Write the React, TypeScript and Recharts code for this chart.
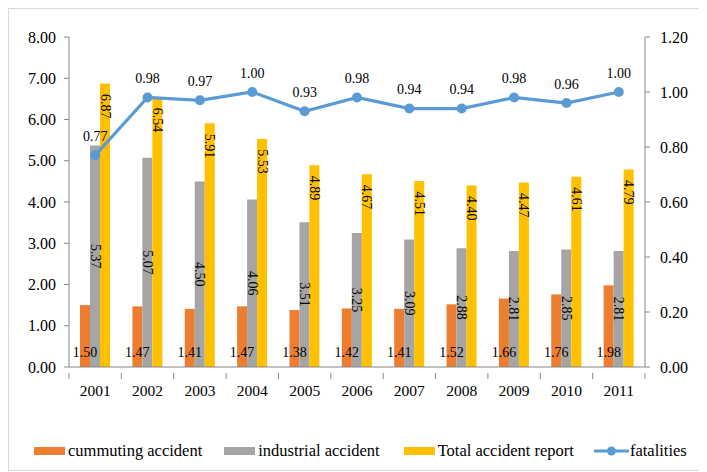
import React from "react";
import {
  ComposedChart,
  Bar,
  Line,
  XAxis,
  YAxis,
  Legend,
  LabelList,
} from "recharts";

// Yearly accident rates (left axis) and fatality rate (right axis)
const years = ["2001", "2002", "2003", "2004", "2005", "2006", "2007", "2008", "2009", "2010", "2011"];
const commuting = [1.5, 1.47, 1.41, 1.47, 1.38, 1.42, 1.41, 1.52, 1.66, 1.76, 1.98];
const industrial = [5.37, 5.07, 4.5, 4.06, 3.51, 3.25, 3.09, 2.88, 2.81, 2.85, 2.81];
const totalReport = [6.87, 6.54, 5.91, 5.53, 4.89, 4.67, 4.51, 4.4, 4.47, 4.61, 4.79];
const fatalities = [0.77, 0.98, 0.97, 1.0, 0.93, 0.98, 0.94, 0.94, 0.98, 0.96, 1.0];

const leftTicks = [0, 1, 2, 3, 4, 5, 6, 7, 8];
const rightTicks = [0, 0.2, 0.4, 0.6, 0.8, 1.0, 1.2];

const data = years.map((year, i) => ({
  year,
  commuting: commuting[i],
  industrial: industrial[i],
  total: totalReport[i],
  fatalities: fatalities[i],
}));

const FONT = "Liberation Serif";
const AXIS = "#868686";
const ORANGE = "#ED7D31";
const GRAY = "#A5A5A5";
const YELLOW = "#FFC000";
const BLUE = "#5B9BD5";

const labelStyle = { fontFamily: FONT, fontSize: 14, fill: "#000" };

const fmt = (v: number) => Number(v).toFixed(2);

// Category ticks: label in the middle, tick marks on the band edges
const YearTick = (props: any) => {
  const { x, y, payload, index, visibleTicksCount } = props;
  const half = payload && payload.offset ? payload.offset : 576 / 11 / 2;
  const axisY = y - 2;
  const isLast = index === (visibleTicksCount ?? years.length) - 1;
  return (
    <g>
      <line x1={x - half} x2={x - half} y1={axisY} y2={axisY + 6} stroke={AXIS} strokeWidth={1} />
      {isLast && (
        <line x1={x + half} x2={x + half} y1={axisY} y2={axisY + 6} stroke={AXIS} strokeWidth={1} />
      )}
      <text x={x} y={axisY + 17} textAnchor="middle" dominantBaseline="central" style={{ ...labelStyle, fontSize: 15.5 }}>
        {payload.value}
      </text>
    </g>
  );
};

// Value ticks for both vertical axes
const ValueTick = (props: any) => {
  const { x, y, payload, textAnchor } = props;
  return (
    <text x={x} y={y} textAnchor={textAnchor} dominantBaseline="central" style={{ ...labelStyle, fontSize: 16 }}>
      {fmt(payload.value)}
    </text>
  );
};

const BaseLabel = (props: any) => {
  const { x, y, width, height, value } = props;
  return (
    <text x={x + width / 2} y={y + height - 14.5} textAnchor="middle" dominantBaseline="central" style={labelStyle}>
      {fmt(value)}
    </text>
  );
};

const CenterRotLabel = (props: any) => {
  const { x, y, width, height, value } = props;
  const cx = x + width / 2;
  const cy = y + height / 2;
  return (
    <text x={cx} y={cy} transform={`rotate(90, ${cx}, ${cy})`} textAnchor="middle" dominantBaseline="central" style={labelStyle}>
      {fmt(value)}
    </text>
  );
};

const TopRotLabel = (props: any) => {
  const { x, y, width, value } = props;
  const cx = x + width / 2;
  const cy = y + 10.5;
  return (
    <text x={cx} y={cy} transform={`rotate(90, ${cx}, ${cy})`} textAnchor="start" dominantBaseline="central" style={labelStyle}>
      {fmt(value)}
    </text>
  );
};

const PointLabel = (props: any) => {
  const { x, y, value } = props;
  return (
    <text x={x} y={y - 19} textAnchor="middle" dominantBaseline="central" style={labelStyle}>
      {fmt(value)}
    </text>
  );
};

const legendItems = [
  { name: "cummuting accident", color: ORANGE, kind: "bar", gap: 22 },
  { name: "industrial accident", color: GRAY, kind: "bar", gap: 24 },
  { name: "Total accident report", color: YELLOW, kind: "bar", gap: 20 },
  { name: "fatalities", color: BLUE, kind: "line", gap: 0 },
];

const ChartLegend = () => (
  <div
    style={{
      display: "flex",
      alignItems: "center",
      height: 24,
      paddingLeft: 15,
      fontFamily: FONT,
      fontSize: 16.5,
      color: "#000",
      whiteSpace: "nowrap",
    }}
  >
    {legendItems.map((it) => (
      <div key={it.name} style={{ display: "flex", alignItems: "center", marginRight: it.gap }}>
        {it.kind === "bar" ? (
          <span style={{ display: "inline-block", width: 31, height: 8, background: it.color, marginRight: 3 }} />
        ) : (
          <svg width={35} height={12} style={{ marginRight: 1 }}>
            <line x1={0} x2={35} y1={6} y2={6} stroke={it.color} strokeWidth={3} />
            <circle cx={17.5} cy={6} r={4.5} fill={it.color} />
          </svg>
        )}
        <span>{it.name}</span>
      </div>
    ))}
  </div>
);

export default function App() {
  return (
    <div style={{ width: 695, height: 461, border: "1px solid #d9d9d9", background: "#fff", fontFamily: FONT }}>
      <ComposedChart
        width={695}
        height={461}
        data={data}
        margin={{ top: 28, right: 9, bottom: 7, left: 10 }}
        barGap={0}
        style={{ fontFamily: FONT }}
      >
        <XAxis
          dataKey="year"
          xAxisId="x"
          height={72}
          axisLine={{ stroke: AXIS }}
          tickLine={false}
          tick={<YearTick />}
          interval={0}
        />
        <YAxis
          yAxisId="left"
          orientation="left"
          width={50}
          domain={[0, 8]}
          ticks={leftTicks}
          axisLine={{ stroke: AXIS }}
          tickLine={{ stroke: AXIS }}
          tickSize={5}
          tickMargin={8}
          tick={<ValueTick />}
          interval={0}
        />
        <YAxis
          yAxisId="right"
          orientation="right"
          width={50}
          domain={[0, 1.2]}
          ticks={rightTicks}
          axisLine={{ stroke: AXIS }}
          tickLine={{ stroke: AXIS }}
          tickSize={5}
          tickMargin={10}
          tick={<ValueTick />}
          interval={0}
        />
        <Legend verticalAlign="bottom" align="left" height={24} content={<ChartLegend />} />
        <Bar xAxisId="x" yAxisId="left" dataKey="commuting" name="cummuting accident" fill={ORANGE} barSize={10} isAnimationActive={false}>
          <LabelList dataKey="commuting" content={<BaseLabel />} />
        </Bar>
        <Bar xAxisId="x" yAxisId="left" dataKey="industrial" name="industrial accident" fill={GRAY} barSize={10} isAnimationActive={false}>
          <LabelList dataKey="industrial" content={<CenterRotLabel />} />
        </Bar>
        <Bar xAxisId="x" yAxisId="left" dataKey="total" name="Total accident report" fill={YELLOW} barSize={10} isAnimationActive={false}>
          <LabelList dataKey="total" content={<TopRotLabel />} />
        </Bar>
        <Line
          xAxisId="x"
          yAxisId="right"
          dataKey="fatalities"
          name="fatalities"
          stroke={BLUE}
          strokeWidth={3.25}
          dot={{ r: 5, fill: BLUE, stroke: BLUE, strokeWidth: 0 }}
          isAnimationActive={false}
        >
          <LabelList dataKey="fatalities" content={<PointLabel />} />
        </Line>
      </ComposedChart>
    </div>
  );
}
